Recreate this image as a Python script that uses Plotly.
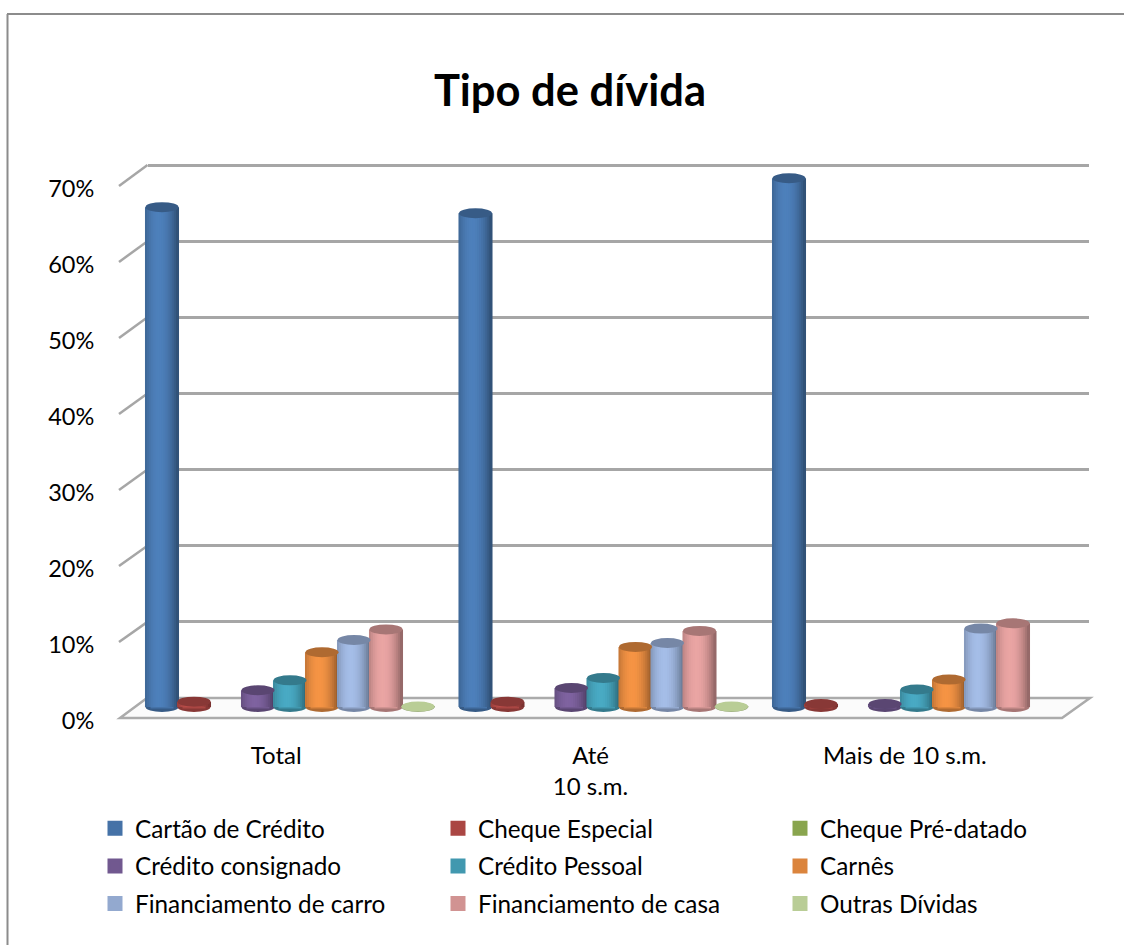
import plotly.graph_objects as go

W, H = 1124, 945
FONT = "Lato"

categories = ["Total", "Até<br>10 s.m.", "Mais de 10 s.m."]
series_names = ["Cartão de Crédito", "Cheque Especial", "Cheque Pré-datado",
                "Crédito consignado", "Crédito Pessoal", "Carnês",
                "Financiamento de carro", "Financiamento de casa", "Outras Dívidas"]
colors = ["#4572A7", "#AA4643", "#89A54E", "#71588F", "#4198AF", "#DB843D",
          "#93A9CF", "#D19392", "#B9CD96"]

cartao = [65.7, 64.9, 69.5]
cheque = [0.7, 0.7, 0.4]
predatado = [None, None, None]
consignado = [2.2, 2.5, 0.4]
pessoal = [3.5, 3.8, 2.3]
carnes = [7.2, 7.9, 3.6]
carro = [8.8, 8.4, 10.3]
casa = [10.2, 10.0, 11.0]
outras = [0.05, 0.05, None]
series_values = [cartao, cheque, predatado, consignado, pessoal, carnes, carro, casa, outras]

tick_values = [0, 10, 20, 30, 40, 50, 60, 70]
tick_labels = ["0%", "10%", "20%", "30%", "40%", "50%", "60%", "70%"]

GROUP_PX = 313.5
BAR_PITCH = 32 / GROUP_PX
BAR_W = 33 / GROUP_PX
STRIPS = 16
ELL_H = 10 / 7.61


def fx(px):
    return px / W


def fy(py):
    return 1 - py / H


def shade(hex_color, f):
    r, g, b = (int(hex_color[i:i + 2], 16) for i in (1, 3, 5))
    return "rgb({},{},{})".format(*(min(255, round(c * f)) for c in (r, g, b)))


def strip_factor(t):
    return 1.12 - 0.45 * ((t - 0.42) / 0.58) ** 2


fig = go.Figure()

fig.add_trace(go.Scatter(x=[0], y=[0], xaxis="x", yaxis="y", mode="markers",
                         marker=dict(opacity=0), showlegend=False, hoverinfo="skip"))
fig.add_trace(go.Scatter(x=categories, y=[0, 0, 0], xaxis="x2", yaxis="y2", mode="markers",
                         marker=dict(opacity=0), showlegend=False, hoverinfo="skip"))

shapes = []
shapes.append(dict(type="line", xref="paper", yref="paper", x0=fx(7.5), x1=fx(7.5),
                   y0=fy(14), y1=fy(945), line=dict(color="#8c8c8c", width=2)))
shapes.append(dict(type="line", xref="paper", yref="paper", x0=fx(7), x1=1,
                   y0=fy(14), y1=fy(14), line=dict(color="#8c8c8c", width=2)))
shapes.append(dict(type="path", xref="paper", yref="paper", layer="below",
                   path="M{},{} L{},{} L{},{} L{},{} Z".format(
                       fx(120), fy(718), fx(147), fy(698), fx(1090), fy(698), fx(1062), fy(718)),
                   fillcolor="#fbfbfb", line=dict(color="#ababab", width=2.5)))
for v in tick_values[1:]:
    front = 718 - 7.6 * v
    back = 698 - 7.614 * v
    shapes.append(dict(type="line", xref="paper", yref="paper", layer="below",
                       x0=fx(119), x1=fx(147.5), y0=fy(front), y1=fy(back),
                       line=dict(color="#a6a6a6", width=2.5)))

for s, (name, col, vals) in enumerate(zip(series_names, colors, series_values)):
    legend_id = ["legend", "legend2", "legend3"][s % 3]
    xs = [g + (s - 4) * BAR_PITCH for g in range(3)]
    fig.add_trace(go.Bar(x=xs, y=vals, name=name, xaxis="x3", yaxis="y3", legend=legend_id,
                         legendgroup=name, width=20 / GROUP_PX,
                         marker=dict(color=col, line=dict(color=col, width=3)),
                         hoverinfo="skip"))
    sx, sy, sc = [], [], []
    for x, v in zip(xs, vals):
        for k in range(STRIPS):
            t = (k + 0.5) / STRIPS
            sx.append(x - BAR_W / 2 + t * BAR_W)
            sy.append(v)
            sc.append(shade(col, strip_factor(t)))
    fig.add_trace(go.Bar(x=sx, y=sy, xaxis="x3", yaxis="y3", showlegend=False,
                         width=1.5 * BAR_W / STRIPS, marker=dict(color=sc, line=dict(width=0)),
                         hoverinfo="skip"))
    for x, v in zip(xs, vals):
        if not v:
            continue
        x0, x1 = x - BAR_W / 2, x + BAR_W / 2
        shapes.append(dict(type="circle", xref="x3", yref="y3", layer="below",
                           x0=x0, x1=x1, y0=-ELL_H / 2, y1=ELL_H / 2,
                           fillcolor=shade(col, 0.8), line=dict(width=0)))
        top = col if v < 0.2 else shade(col, 0.8)
        shapes.append(dict(type="circle", xref="x3", yref="y3",
                           x0=x0, x1=x1, y0=v - ELL_H / 2, y1=v + ELL_H / 2,
                           fillcolor=top, line=dict(width=0)))


def legend_at(px):
    return dict(orientation="v", x=fx(px), xanchor="left", y=fy(806), yanchor="top",
                traceorder="grouped", tracegroupgap=3,
                bgcolor="rgba(0,0,0,0)", font=dict(family=FONT, size=24.3, color="#000000"))


fig.update_layout(
    width=W, height=H, autosize=False,
    margin=dict(l=0, r=0, t=0, b=0, autoexpand=False),
    paper_bgcolor="white", plot_bgcolor="rgba(0,0,0,0)",
    barmode="overlay",
    font=dict(family=FONT, size=24, color="#000000"),
    title=dict(text="<b>Tipo de dívida</b>", x=fx(570), xanchor="center", xref="paper",
               y=fy(91), yanchor="middle", yref="paper",
               font=dict(family=FONT, size=43.5, color="#000000")),
    shapes=shapes,
    legend=legend_at(95), legend2=legend_at(438), legend3=legend_at(780),
    xaxis=dict(domain=[fx(147.5), fx(1089)], range=[0, 1], visible=True, showgrid=False,
               showticklabels=False, zeroline=False, ticks="", anchor="y"),
    yaxis=dict(domain=[fy(698), fy(157.4)], range=[0, 71], tickvals=tick_values, showgrid=True,
               gridcolor="#a6a6a6", gridwidth=2.5, showticklabels=False, zeroline=False,
               ticks="", anchor="x"),
    xaxis2=dict(domain=[fx(119), fx(1062)], range=[-0.5, 2.5], type="category",
                categoryorder="array", categoryarray=categories, anchor="y2",
                showgrid=False, zeroline=False, ticks="outside", ticklen=13.5,
                tickcolor="rgba(0,0,0,0)", tickfont=dict(family=FONT, size=24)),
    yaxis2=dict(domain=[fy(720.5), fy(188.5)], range=[0, 70], tickvals=tick_values,
                ticktext=tick_labels, anchor="x2", showgrid=False, zeroline=False,
                ticks="outside", ticklen=19, tickcolor="rgba(0,0,0,0)",
                tickfont=dict(family=FONT, size=23.5)),
    xaxis3=dict(domain=[fx(133.25), fx(1073.75)], range=[-0.5, 2.5], visible=False, anchor="y3"),
    yaxis3=dict(domain=[fy(722.2), fy(159.2)], range=[-2, 72], visible=False, anchor="x3"),
)

fig.write_html("out.html", post_script="document.body.style.margin='0';",
               config={"displayModeBar": False})
